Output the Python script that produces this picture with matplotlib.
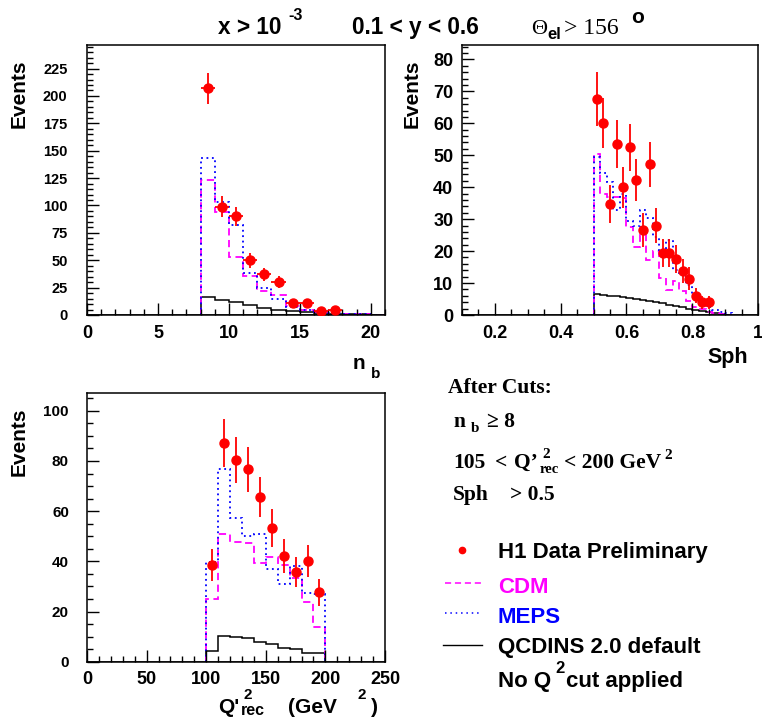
import numpy as np
import matplotlib
matplotlib.use("Agg")
import matplotlib.pyplot as plt
from matplotlib.ticker import MultipleLocator
from matplotlib.lines import Line2D

# ---- data ----
# n_b (number of particles in the band), bins of width 1 from 8 to 21
nb_edges = np.arange(8, 22)
nb_meps = [143, 103, 82, 38, 25, 15, 7, 4.5, 3, 2, 1, 0.5, 0.3]
nb_cdm = [123, 94, 53, 36, 22, 18, 8, 4.5, 2.5, 1.5, 1, 0.5, 0.2]
nb_qcdins = [16, 13.7, 11.6, 8.8, 6.4, 4.2, 3.2, 2.3, 1.5, 1.2, 0.8, 0.5, 0.3]
nb_x = [8.5, 9.5, 10.5, 11.5, 12.5, 13.5, 14.5, 15.5, 16.5, 17.5]
nb_data = [207, 99, 90, 50, 37, 30, 11, 11, 3.6, 4.2]
nb_err = [14, 9.5, 9, 7, 6, 5.5, 3.3, 3.3, 1.9, 2]

# sphericity, bins of width 0.02 from 0.50 to 0.92
sph_edges = np.linspace(0.50, 0.92, 22)
sph_meps = [49.5, 44.5, 41.5, 33, 38, 29.5, 28, 33, 30.5, 24.5, 20, 23.5,
            14, 13, 9.4, 5.7, 3.6, 2.6, 1.6, 1, 0.5]
sph_cdm = [50.4, 38, 37, 36.8, 36.5, 27.6, 21.4, 25, 17.2, 20, 11.5, 7.8,
           10.5, 7.4, 4.5, 2.5, 2, 1, 0.5, 0.3, 0.1]
sph_qcdins = [6.6, 6.3, 6.1, 5.8, 5.6, 5.3, 5.0, 4.7, 4.4, 4.0, 3.6, 3.2,
              2.8, 2.4, 2.0, 1.6, 1.2, 0.8, 0.5, 0.3, 0.1]
sph_x = [0.51, 0.53, 0.55, 0.57, 0.59, 0.61, 0.63, 0.65, 0.67, 0.69, 0.71,
         0.73, 0.75, 0.77, 0.79, 0.81, 0.83, 0.85]
sph_data = [67.5, 60, 34.7, 53.4, 40, 52.5, 42.2, 26.6, 47.2, 28, 19.5, 19.5,
            17.6, 13.8, 11.4, 6, 4, 4]
sph_err = [8.4, 7.8, 6, 7.5, 6.4, 7.3, 6.5, 5.3, 7, 5.5, 4.4, 4.4, 4.4, 3.7,
           3.5, 2.4, 2, 2]

# Q'^2_rec, bins of width 10 from 100 to 200
q2_edges = np.arange(100, 210, 10)
q2_meps = [39.8, 76.6, 57.4, 50, 50.7, 36.9, 30.8, 38, 27.2, 27]
q2_cdm = [24.8, 50.7, 47.8, 47.4, 39.4, 41.8, 38.5, 33.2, 23.9, 13.9]
q2_qcdins = [4.4, 10.4, 10, 9.6, 7.7, 7, 5.6, 4.9, 3.6, 3.3]
q2_x = [105, 115, 125, 135, 145, 155, 165, 175, 185, 195]
q2_data = [38.5, 87, 80.3, 76.6, 65.7, 53.3, 42.2, 35.9, 40.1, 27.6]
q2_err = [6.3, 9.6, 9.2, 9, 8.1, 7.4, 6.7, 6, 6.4, 5.3]

W, H = 762, 726
fig = plt.figure(figsize=(W / 100, H / 100), dpi=100)
SANS = "Liberation Sans"
SERIF = "Liberation Serif"
MAG = "#ff00ff"
BLUE = "#0000ff"


def txt(x, y, s, size, family=SANS, weight="bold", **kw):
    # x, y in pixels from top-left, y is the baseline
    fig.text(x / W, 1 - y / H, s, fontsize=size, family=family,
             weight=weight, va="baseline", **kw)


def panel(rect_px, edges, meps, cdm, qcd, xs, ys, err, xerr,
          xlim, ylim, xmaj, xmin, ymaj, ymin, ylab_size, ylab_pad):
    l, t, r, b = rect_px
    ax = fig.add_axes([l / W, 1 - b / H, (r - l) / W, (b - t) / H])
    ax.stairs(qcd, edges, baseline=0, color="black", lw=1.1)
    ax.stairs(cdm, edges, baseline=0, color=MAG, lw=1.3, ls=(0, (4, 2.5)))
    ax.stairs(meps, edges, baseline=0, color=BLUE, lw=1.3, ls=(0, (1, 2)))
    # empty bins along the axis
    ax.plot(xlim, [0, 0], color="black", lw=1.1)
    ax.errorbar(xs, ys, yerr=err, xerr=xerr, fmt="o", color="red",
                ms=6.5, elinewidth=1.3, capsize=0, zorder=5)
    ax.set_xlim(*xlim)
    ax.set_ylim(*ylim)
    ax.xaxis.set_major_locator(MultipleLocator(xmaj))
    ax.xaxis.set_minor_locator(MultipleLocator(xmin))
    ax.yaxis.set_major_locator(MultipleLocator(ymaj))
    ax.yaxis.set_minor_locator(MultipleLocator(ymin))
    ax.tick_params(which="both", direction="in", top=False, right=False,
                   width=1)
    ax.tick_params(which="major", length=8.5)
    ax.tick_params(which="minor", length=4.3)
    ax.tick_params(axis="x", pad=7, labelsize=13)
    ax.tick_params(axis="y", pad=ylab_pad, labelsize=ylab_size)
    for lab in ax.get_xticklabels() + ax.get_yticklabels():
        lab.set_family(SANS)
        lab.set_weight("bold")
    for sp in ax.spines.values():
        sp.set_linewidth(1.1)
    return ax


ax1 = panel((87, 45, 385, 315), nb_edges, nb_meps, nb_cdm, nb_qcdins,
            nb_x, nb_data, nb_err, 0.5, (0, 21), (0, 246.5),
            5, 1, 25, 5, 10.5, 14)
ax1.xaxis.set_major_formatter(plt.FuncFormatter(lambda v, p: f"{v:g}"))

ax2 = panel((461.7, 45, 758.3, 315), sph_edges, sph_meps, sph_cdm, sph_qcdins,
            sph_x, sph_data, sph_err, 0.01, (0.1, 1.0), (0, 84.5),
            0.2, 0.05, 10, 2, 13, 6)
ax2.xaxis.set_major_formatter(plt.FuncFormatter(lambda v, p: f"{v:g}"))

ax3 = panel((87, 392.7, 385, 661.7), q2_edges, q2_meps, q2_cdm, q2_qcdins,
            q2_x, q2_data, q2_err, 1.9, (0, 250), (0, 107.2),
            50, 10, 20, 5, 11, 13)

# axis titles
for x, ytop in [(19.5, 60), (412.5, 60), (19.5, 408)]:
    fig.text(x / W, 1 - ytop / H, "Events", rotation=90, ha="center",
             va="top", fontsize=15, family=SANS, weight="bold")

txt(353, 369, "n", 15)
txt(371, 378, "b", 11)
txt(748, 363, "Sph", 15.5, ha="right")
txt(218, 713, "Q'", 15)
txt(243, 699, "2", 11)
txt(241, 715, "rec", 11.5)
txt(288, 713, "(GeV", 15)
txt(357, 699, "2", 11)
txt(371, 713, ")", 15)

# header
txt(218, 34, "x > 10", 16.3)
txt(288, 20, "-3", 11.5)
txt(352, 34, "0.1 < y < 0.6", 16.3)
txt(531, 34, "\u0398", 16, family=SERIF, weight="normal")
txt(547, 39, "el", 12)
txt(564, 34, "> 156", 17, family=SERIF, weight="normal")
txt(631, 23, "o", 15)

# cut summary
txt(448, 393, "After Cuts:", 15.5, family=SERIF)
txt(453, 427, "n", 15.5, family=SERIF)
txt(471, 432, "b", 11, family=SERIF)
txt(487, 427, "\u2265 8", 15.5, family=SERIF)
txt(453, 468, "105", 15.5, family=SERIF)
txt(495, 468, "<", 15.5, family=SERIF)
txt(514, 468, "Q\u2019", 15.5, family=SERIF)
txt(542, 458, "2", 11, family=SERIF)
txt(540, 473, "rec", 10.5, family=SERIF)
txt(564, 468, "< 200 GeV", 15.5, family=SERIF)
txt(664, 459, "2", 11, family=SERIF)
txt(453, 500, "Sph", 15.5, family=SERIF)
txt(510, 500, "> 0.5", 15.5, family=SERIF)

# legend
fig.add_artist(Line2D([461.7 / W], [1 - 550 / H], marker="o", color="red",
                      ms=4.5, ls="none", transform=fig.transFigure))
fig.add_artist(Line2D([445 / W, 482 / W], [1 - 583 / H] * 2, color=MAG,
                      lw=1.1, ls=(0, (4, 2.5)), transform=fig.transFigure))
fig.add_artist(Line2D([445 / W, 480 / W], [1 - 613 / H] * 2, color=BLUE,
                      lw=1.1, ls=(0, (1, 2.5)), transform=fig.transFigure))
fig.add_artist(Line2D([443 / W, 482 / W], [1 - 645 / H] * 2, color="black",
                      lw=1.0, transform=fig.transFigure))
txt(498, 558, "H1 Data Preliminary", 16)
txt(498, 593, "CDM", 16, color=MAG)
txt(498, 623, "MEPS", 16, color=BLUE)
txt(498, 653, "QCDINS 2.0 default", 16)
txt(498, 687, "No Q", 16)
txt(555, 673, "2", 12)
txt(566, 687, "cut applied", 16)

fig.savefig("out.png", dpi=100)
